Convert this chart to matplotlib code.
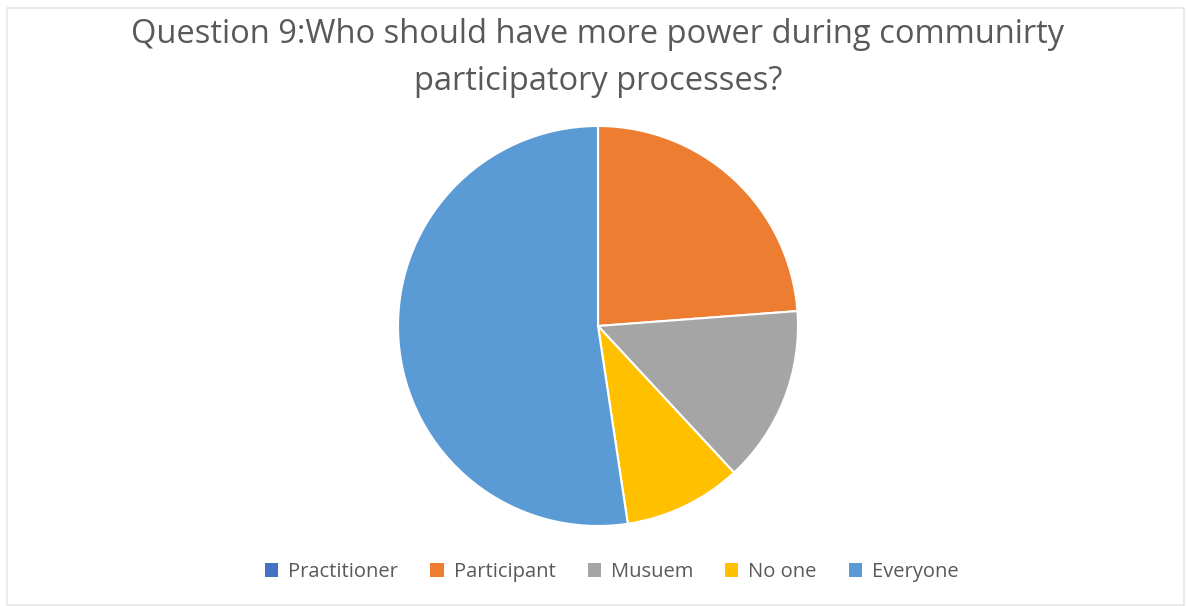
import matplotlib.pyplot as plt
from matplotlib.patches import Rectangle, Patch

# 데이터
labels = ['Practitioner', 'Participant', 'Musuem', 'No one', 'Everyone']
counts = [0, 5, 3, 2, 11]
colors = ['#4472C4', '#ED7D31', '#A5A5A5', '#FFC000', '#5B9BD5']

plt.rcParams['font.family'] = ['Open Sans', 'DejaVu Sans']

fig = plt.figure(figsize=(11.86, 6.06), dpi=100)

# 테두리
fig.patches.append(Rectangle((7 / 1186, 0.002), 1 - 9 / 1186, 1 - 9 / 606,
                             transform=fig.transFigure, fill=False,
                             edgecolor='#e6e6e6', linewidth=1.2))

# 파이 차트
ax = fig.add_axes([398 / 1186, 80 / 606, 400 / 1186, 400 / 606])
ax.pie(counts, colors=colors, startangle=90, counterclock=False,
       wedgeprops=dict(edgecolor='white', linewidth=1.5))
ax.set_xlim(-1, 1)
ax.set_ylim(-1, 1)
ax.set_aspect('equal')
ax.axis('off')

# 제목
fig.text(598 / 1186, 1 - 58 / 606,
         'Question 9:Who should have more power during communirty\nparticipatory processes?',
         ha='center', va='center', fontsize=23.5, color='#595959', linespacing=1.57)

# 범례
handles = [Patch(facecolor=c, edgecolor='none') for c in colors]
fig.legend(handles, labels, loc='center', bbox_to_anchor=(612 / 1186, 1 - 572 / 606),
           ncol=5, frameon=False, fontsize=14.5, labelcolor='#595959',
           handlelength=0.65, handleheight=0.65, handletextpad=0.5, columnspacing=1.6)

fig.savefig('out.png', dpi=100)
